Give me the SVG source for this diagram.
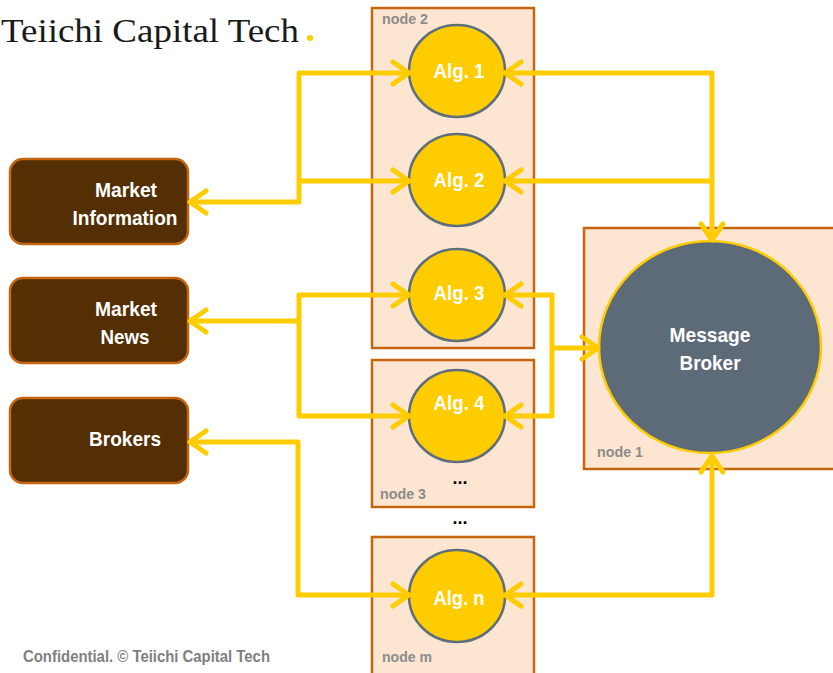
<svg xmlns="http://www.w3.org/2000/svg" width="833" height="673" viewBox="0 0 833 673">
<defs>
<style>
.box{fill:#FDE6D1;stroke:#C5650F;stroke-width:2.5}
.alg{fill:#FFCC00;stroke:#5F6E7C;stroke-width:2.5}
.src{fill:#532F03;stroke:#C5650F;stroke-width:2.5}
.w{fill:#FFFFFF;font-family:"Liberation Sans",Arial,sans-serif;font-weight:bold;font-size:21px;text-anchor:middle}
.lbl{fill:#8C8C8C;font-family:"Liberation Sans",Arial,sans-serif;font-weight:bold;font-size:15px}
.dots{fill:#000;font-family:"Liberation Sans",Arial,sans-serif;font-weight:bold;font-size:18px;text-anchor:middle}
.c{fill:none;stroke:#FFCC00;stroke-width:5;stroke-linejoin:round}
.a{marker-start:url(#ah);marker-end:url(#ah)}
.e{marker-end:url(#ah)}
</style>
<marker id="ah" markerUnits="userSpaceOnUse" markerWidth="22" markerHeight="28" viewBox="0 0 22 28" refX="19" refY="14" orient="auto-start-reverse">
<path d="M3,3 L19,14 L3,25" fill="none" stroke="#FFCC00" stroke-width="5" stroke-linecap="round" stroke-linejoin="round"/>
</marker>
</defs>
<rect width="833" height="673" fill="#FFFFFF"/>
<text x="1" y="42" font-family="'Liberation Serif','Times New Roman',serif" font-size="34" fill="#1a1a1a" textLength="298" lengthAdjust="spacingAndGlyphs">Teiichi Capital Tech</text>
<circle cx="310" cy="38" r="3" fill="#FFCC00"/>
<text x="23" y="662" font-family="'Liberation Sans',Arial,sans-serif" font-weight="bold" font-size="16" fill="#7F7F7F" textLength="247" lengthAdjust="spacingAndGlyphs">Confidential. © Teiichi Capital Tech</text>

<g id="node2"><rect class="box" x="372" y="8" width="162" height="340"/><text class="lbl" x="382" y="24" textLength="46" lengthAdjust="spacingAndGlyphs">node 2</text></g>
<g id="node3"><rect class="box" x="372" y="360" width="162" height="147"/><text class="lbl" x="380" y="499" textLength="46" lengthAdjust="spacingAndGlyphs">node 3</text><text class="dots" x="460" y="484">...</text></g>
<text class="dots" x="460" y="524">...</text>
<g id="nodem"><rect class="box" x="372" y="537" width="162" height="145"/><text class="lbl" x="382" y="662" textLength="50" lengthAdjust="spacingAndGlyphs">node m</text></g>
<g id="node1"><rect class="box" x="584" y="228" width="260" height="241"/><text class="lbl" x="597" y="457" textLength="46" lengthAdjust="spacingAndGlyphs">node 1</text></g>

<g id="broker"><ellipse cx="710" cy="347" rx="111" ry="106" fill="#5D6B79" stroke="#FFCC00" stroke-width="2.5"/><text class="w" x="710" y="342" textLength="81" lengthAdjust="spacingAndGlyphs">Message</text><text class="w" x="710" y="370" textLength="61" lengthAdjust="spacingAndGlyphs">Broker</text></g>

<g id="alg1"><ellipse class="alg" cx="457" cy="71" rx="48" ry="46"/><text class="w" x="459" y="78" textLength="51" lengthAdjust="spacingAndGlyphs">Alg. 1</text></g>
<g id="alg2"><ellipse class="alg" cx="457" cy="180" rx="48" ry="46"/><text class="w" x="459" y="187" textLength="51" lengthAdjust="spacingAndGlyphs">Alg. 2</text></g>
<g id="alg3"><ellipse class="alg" cx="457" cy="295" rx="48" ry="46"/><text class="w" x="459" y="300" textLength="51" lengthAdjust="spacingAndGlyphs">Alg. 3</text></g>
<g id="alg4"><ellipse class="alg" cx="457" cy="416" rx="48" ry="46"/><text class="w" x="459" y="410" textLength="51" lengthAdjust="spacingAndGlyphs">Alg. 4</text></g>
<g id="algn"><ellipse class="alg" cx="457" cy="596" rx="48" ry="46"/><text class="w" x="459" y="605" textLength="51" lengthAdjust="spacingAndGlyphs">Alg. n</text></g>

<g id="mktinfo"><rect class="src" x="10" y="159" width="178" height="85" rx="13"/><text class="w" x="126" y="197" textLength="62" lengthAdjust="spacingAndGlyphs">Market</text><text class="w" x="125" y="225" textLength="105" lengthAdjust="spacingAndGlyphs">Information</text></g>
<g id="mktnews"><rect class="src" x="10" y="278" width="178" height="85" rx="13"/><text class="w" x="126" y="316" textLength="62" lengthAdjust="spacingAndGlyphs">Market</text><text class="w" x="125" y="344" textLength="49" lengthAdjust="spacingAndGlyphs">News</text></g>
<g id="brokers"><rect class="src" x="10" y="398" width="178" height="85" rx="13"/><text class="w" x="125" y="446" textLength="72" lengthAdjust="spacingAndGlyphs">Brokers</text></g>

<g id="connectors">
<path class="c a" d="M190,202 H299 V73 H409"/>
<path class="c e" d="M299,181 H409"/>
<path class="c a" d="M190,321 H299 V295 H409"/>
<path class="c e" d="M299,321 V416 H409"/>
<path class="c a" d="M190,442 H298 V595 H409"/>
<path class="c a" d="M505,73 H712 V240"/>
<path class="c" d="M505,181 H712" style="marker-start:url(#ah)"/>
<path class="c a" d="M505,295 H552 V416 H505"/>
<path class="c e" d="M552,348 H598"/>
<path class="c a" d="M505,595 H712 V456"/>
</g>
</svg>
